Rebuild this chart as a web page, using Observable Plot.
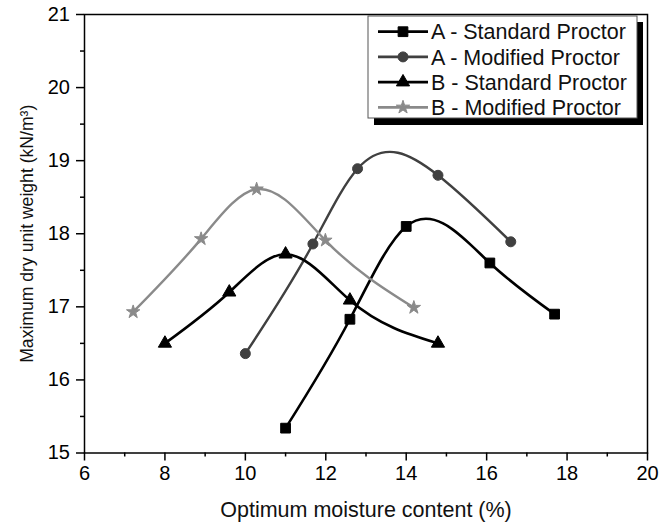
<!DOCTYPE html>
<html><head><meta charset="utf-8">
<script src="https://cdn.jsdelivr.net/npm/d3@7"></script>
<script src="https://cdn.jsdelivr.net/npm/@observablehq/plot@0.6"></script>
<style>body{margin:0;background:#fff} #chart{width:659px;height:526px}</style>
</head><body><div id="chart"></div>
<script>
const seriesNames = ["A - Standard Proctor", "A - Modified Proctor", "B - Standard Proctor", "B - Modified Proctor"];
const aStdX = [11.0, 12.6, 14.0, 16.08, 17.69];
const aStdY = [15.34, 16.83, 18.10, 17.60, 16.90];
const aModX = [10.0, 11.68, 12.79, 14.79, 16.6];
const aModY = [16.36, 17.86, 18.89, 18.80, 17.89];
const bStdX = [8.0, 9.6, 11.0, 12.6, 14.79];
const bStdY = [16.50, 17.20, 17.72, 17.09, 16.50];
const bModX = [7.21, 8.90, 10.28, 11.99, 14.19];
const bModY = [16.93, 17.93, 18.61, 17.91, 16.99];
const xMajor = [6, 8, 10, 12, 14, 16, 18, 20];
const xMinor = [7, 9, 11, 13, 15, 17, 19];
const yMajor = [15, 16, 17, 18, 19, 20, 21];
const yMinor = [15.5, 16.5, 17.5, 18.5, 19.5, 20.5];
const xTitle = "Optimum moisture content (%)";
const yTitle = "Maximum dry unit weight (kN/m\u00B3)";

const colors = ["#000000", "#404040", "#000000", "#8a8a8a"];
const symbols = ["square", "circle", "triangle", "star"];
const radii = [5.5, 5, 4.9, 4.2];
const widths = [2.6, 2.4, 2.6, 2.4];

const xs = [aStdX, aModX, bStdX, bModX];
const ys = [aStdY, aModY, bStdY, bModY];
const rows = [];
seriesNames.forEach((s, i) => xs[i].forEach((x, j) => rows.push({series: s, x, y: ys[i][j]})));

// Curve factory: natural cubic spline y(x) (non-parametric), drawn as Bézier segments
function NaturalX(context) { this._context = context; }
NaturalX.prototype = {
  areaStart() { this._line = 0; },
  areaEnd() { this._line = NaN; },
  lineStart() { this._x = []; this._y = []; },
  point(x, y) { this._x.push(+x); this._y.push(+y); },
  lineEnd() {
    const x = this._x, y = this._y, n = x.length, c = this._context;
    if (n) {
      this._line ? c.lineTo(x[0], y[0]) : c.moveTo(x[0], y[0]);
      if (n === 2) c.lineTo(x[1], y[1]);
      else if (n > 2) {
        const h = [], d = [];
        for (let i = 0; i < n - 1; i++) { h.push(x[i + 1] - x[i]); d.push((y[i + 1] - y[i]) / h[i]); }
        // solve for second derivatives M (natural: M0 = Mn-1 = 0)
        const M = new Array(n).fill(0);
        const m = n - 2, a = [], b = [], cc = [], r = [];
        for (let i = 1; i <= m; i++) {
          a.push(h[i - 1]); b.push(2 * (h[i - 1] + h[i])); cc.push(h[i]); r.push(6 * (d[i] - d[i - 1]));
        }
        for (let i = 1; i < m; i++) { const w = a[i] / b[i - 1]; b[i] -= w * cc[i - 1]; r[i] -= w * r[i - 1]; }
        const sol = new Array(m);
        sol[m - 1] = r[m - 1] / b[m - 1];
        for (let i = m - 2; i >= 0; i--) sol[i] = (r[i] - cc[i] * sol[i + 1]) / b[i];
        for (let i = 0; i < m; i++) M[i + 1] = sol[i];
        const slope = [];
        for (let i = 0; i < n - 1; i++) slope.push(d[i] - h[i] * (2 * M[i] + M[i + 1]) / 6);
        slope.push(d[n - 2] + h[n - 2] * (M[n - 2] + 2 * M[n - 1]) / 6);
        for (let i = 0; i < n - 1; i++) {
          const t = h[i] / 3;
          c.bezierCurveTo(x[i] + t, y[i] + slope[i] * t, x[i + 1] - t, y[i + 1] - slope[i + 1] * t, x[i + 1], y[i + 1]);
        }
      }
    }
    if (this._line || (this._line !== 0 && n === 1)) c.closePath();
    this._line = 1 - this._line;
    this._x = this._y = null;
  }
};
const curveNaturalX = (context) => new NaturalX(context);

const font = "'Liberation Sans', Arial, Helvetica, sans-serif";
const intFmt = d3.format("d");

const marks = [
  Plot.axisX({ticks: xMajor, tickSize: 8, tickPadding: 5, tickFormat: intFmt, label: null, fontSize: 20, strokeWidth: 1.5}),
  Plot.axisX({ticks: xMinor, tickSize: 4, tickFormat: () => "", label: null, strokeWidth: 1.5}),
  Plot.axisY({ticks: yMajor, tickSize: 8, tickPadding: 6.5, tickFormat: intFmt, label: null, fontSize: 20, strokeWidth: 1.5}),
  Plot.axisY({ticks: yMinor, tickSize: 4, tickFormat: () => "", label: null, strokeWidth: 1.5}),
  Plot.frame({stroke: "black", strokeWidth: 1.5})
];
seriesNames.forEach((s, i) => {
  marks.push(Plot.line(rows, {filter: d => d.series === s, x: "x", y: "y", stroke: colors[i], strokeWidth: widths[i], curve: curveNaturalX}));
});
seriesNames.forEach((s, i) => {
  marks.push(Plot.dot(rows, {filter: d => d.series === s, x: "x", y: "y", symbol: symbols[i], fill: colors[i], stroke: colors[i], strokeWidth: 1, r: radii[i]}));
});
marks.push(Plot.text([xTitle], {text: d => d, frameAnchor: "bottom", textAnchor: "middle", dy: 64, fontSize: 21.5, fill: "#111"}));
marks.push(Plot.text([yTitle], {text: d => d, frameAnchor: "left", textAnchor: "middle", dx: -57, rotate: -90, fontSize: 17.6, fill: "#111"}));

const plot = Plot.plot({
  width: 659, height: 526,
  marginLeft: 84, marginRight: 12, marginTop: 14, marginBottom: 73.5,
  style: {fontFamily: font, fontSize: "18px", background: "white", color: "black"},
  x: {domain: [6, 20]},
  y: {domain: [15, 21]},
  marks
});
document.getElementById("chart").appendChild(plot);

// legend inside the plot (top right)
const svg = d3.select(plot);
const lg = svg.append("g").attr("font-family", font).attr("font-size", 21.5).attr("text-anchor", "start");
lg.append("rect").attr("x", 374).attr("y", 22).attr("width", 269).attr("height", 103).attr("fill", "black");
lg.append("rect").attr("x", 368).attr("y", 16).attr("width", 269).attr("height", 102).attr("fill", "white").attr("stroke", "#555").attr("stroke-width", 1);
const symMap = {square: d3.symbolSquare, circle: d3.symbolCircle, triangle: d3.symbolTriangle, star: d3.symbolStar};
seriesNames.forEach((s, i) => {
  const cy = 31.7 + i * 25.2;
  lg.append("line").attr("x1", 378).attr("x2", 428).attr("y1", cy).attr("y2", cy).attr("stroke", colors[i]).attr("stroke-width", 2.8);
  lg.append("path").attr("transform", `translate(403,${cy})`)
    .attr("d", d3.symbol(symMap[symbols[i]], Math.PI * radii[i] * radii[i])())
    .attr("fill", colors[i]).attr("stroke", colors[i]);
  lg.append("text").attr("x", 431).attr("y", cy).attr("dy", "0.36em").attr("text-anchor", "start").attr("fill", "#111").text(s);
});
</script>
</body></html>
